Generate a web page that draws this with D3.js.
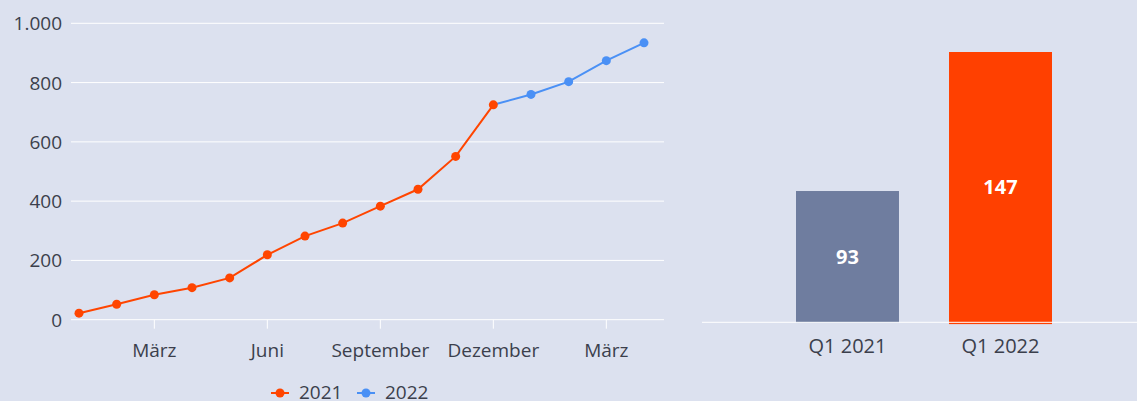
<!DOCTYPE html>
<html>
<head>
<meta charset="utf-8">
<script src="https://cdn.jsdelivr.net/npm/d3@7"></script>
<style>
  body { margin: 0; background: #dce1ef; }
  svg { display: block; font-family: "Open Sans", sans-serif; }
</style>
</head>
<body>
<svg id="chart" width="1137" height="401"></svg>
<script>
// months on the line chart (Jan 2021 .. Apr 2022)
const months = ["Jan 21", "Feb 21", "Mär 21", "Apr 21", "Mai 21", "Jun 21", "Jul 21", "Aug 21",
                "Sep 21", "Okt 21", "Nov 21", "Dez 21", "Jan 22", "Feb 22", "Mär 22", "Apr 22"];
const values2021 = [22, 52, 84, 108, 141, 219, 282, 326, 383, 440, 551, 725];
const values2022 = [760, 803, 874, 934];
const tickMonths = ["Mär 21", "Jun 21", "Sep 21", "Dez 21", "Mär 22"];
const tickLabels = ["März", "Juni", "September", "Dezember", "März"];
const yTicks = [0, 200, 400, 600, 800, 1000];

const barCategories = ["Q1 2021", "Q1 2022"];
const barValues = [93, 147];

const red = "#ff4500", blue = "#4a90f5", grey = "#6f7d9f", textCol = "#3b3f4c";

const svg = d3.select("#chart");
const fmt = d3.formatLocale({ decimal: ",", thousands: ".", grouping: [3], currency: ["", "€"] }).format(",d");

// === Linienchart ===
const x = d3.scalePoint().domain(months).range([79, 644]);
const y = d3.scaleLinear().domain([0, 1000]).range([319.7, 23.3]);

const grid = svg.append("g");
grid.selectAll("line")
  .data(yTicks)
  .join("line")
  .attr("x1", 71).attr("x2", 664)
  .attr("y1", d => y(d)).attr("y2", d => y(d))
  .attr("stroke", "#fff").attr("stroke-width", 1);

grid.selectAll("text")
  .data(yTicks)
  .join("text")
  .attr("x", 62)
  .attr("y", d => y(d) + 7)
  .attr("text-anchor", "end")
  .attr("font-size", 19)
  .attr("fill", textCol)
  .text(d => fmt(d));

const xAxis = svg.append("g");
xAxis.selectAll("line")
  .data(tickMonths)
  .join("line")
  .attr("x1", d => x(d)).attr("x2", d => x(d))
  .attr("y1", y(0)).attr("y2", y(0) + 9)
  .attr("stroke", "#fff");
xAxis.selectAll("text")
  .data(tickMonths)
  .join("text")
  .attr("x", d => x(d))
  .attr("y", 357)
  .attr("text-anchor", "middle")
  .attr("font-size", 19)
  .attr("fill", textCol)
  .text((d, i) => tickLabels[i]);

const pts2021 = values2021.map((v, i) => [months[i], v]);
const pts2022 = values2022.map((v, i) => [months[i + 12], v]);
const line = d3.line().x(d => x(d[0])).y(d => y(d[1]));

// 2022 line starts at the last 2021 point
svg.append("path")
  .datum([pts2021[pts2021.length - 1]].concat(pts2022))
  .attr("d", line)
  .attr("fill", "none").attr("stroke", blue).attr("stroke-width", 2);
svg.append("g").selectAll("circle")
  .data(pts2022)
  .join("circle")
  .attr("cx", d => x(d[0])).attr("cy", d => y(d[1]))
  .attr("r", 4.5).attr("fill", blue);

svg.append("path")
  .datum(pts2021)
  .attr("d", line)
  .attr("fill", "none").attr("stroke", red).attr("stroke-width", 2);
svg.append("g").selectAll("circle")
  .data(pts2021)
  .join("circle")
  .attr("cx", d => x(d[0])).attr("cy", d => y(d[1]))
  .attr("r", 4.5).attr("fill", red);

// === Legende ===
const legend = svg.append("g").attr("transform", "translate(271, 393)");
const legendItems = legend.selectAll("g")
  .data([["2021", red], ["2022", blue]])
  .join("g")
  .attr("transform", (d, i) => `translate(${i * 86}, 0)`);
legendItems.append("line")
  .attr("x1", 0).attr("x2", 18)
  .attr("stroke", d => d[1]).attr("stroke-width", 2);
legendItems.append("circle")
  .attr("cx", 9).attr("r", 4.5).attr("fill", d => d[1]);
legendItems.append("text")
  .attr("x", 28).attr("y", 6)
  .attr("font-size", 19)
  .attr("fill", textCol)
  .text(d => d[0]);

// === Balkenchart ===
const bx = d3.scaleBand().domain(barCategories).range([719.5, 1128.5]).paddingInner(0.327).paddingOuter(0.5);
const by = d3.scaleLinear().domain([42, 147]).range([322.3, 52]);

svg.append("g").selectAll("rect")
  .data(barCategories)
  .join("rect")
  .attr("x", d => bx(d))
  .attr("width", bx.bandwidth())
  .attr("y", (d, i) => by(barValues[i]))
  .attr("height", (d, i) => by(42) - by(barValues[i]) + (i === 1 ? 1.8 : 0))
  .attr("fill", (d, i) => i === 0 ? grey : "#ff4000");

svg.append("line")
  .attr("x1", 702).attr("x2", 1137)
  .attr("y1", 322.3).attr("y2", 322.3)
  .attr("stroke", "#fff").attr("stroke-width", 1);

svg.append("g").selectAll("text")
  .data(barCategories)
  .join("text")
  .attr("x", d => bx(d) + bx.bandwidth() / 2)
  .attr("y", (d, i) => (by(barValues[i]) + by(42)) / 2 + 7)
  .attr("text-anchor", "middle")
  .attr("font-size", 20)
  .attr("font-weight", "bold")
  .attr("fill", "#fff")
  .text((d, i) => barValues[i]);

svg.append("g").selectAll("text")
  .data(barCategories)
  .join("text")
  .attr("x", d => bx(d) + bx.bandwidth() / 2)
  .attr("y", 353)
  .attr("text-anchor", "middle")
  .attr("font-size", 20)
  .attr("fill", textCol)
  .text(d => d);
</script>
</body>
</html>
